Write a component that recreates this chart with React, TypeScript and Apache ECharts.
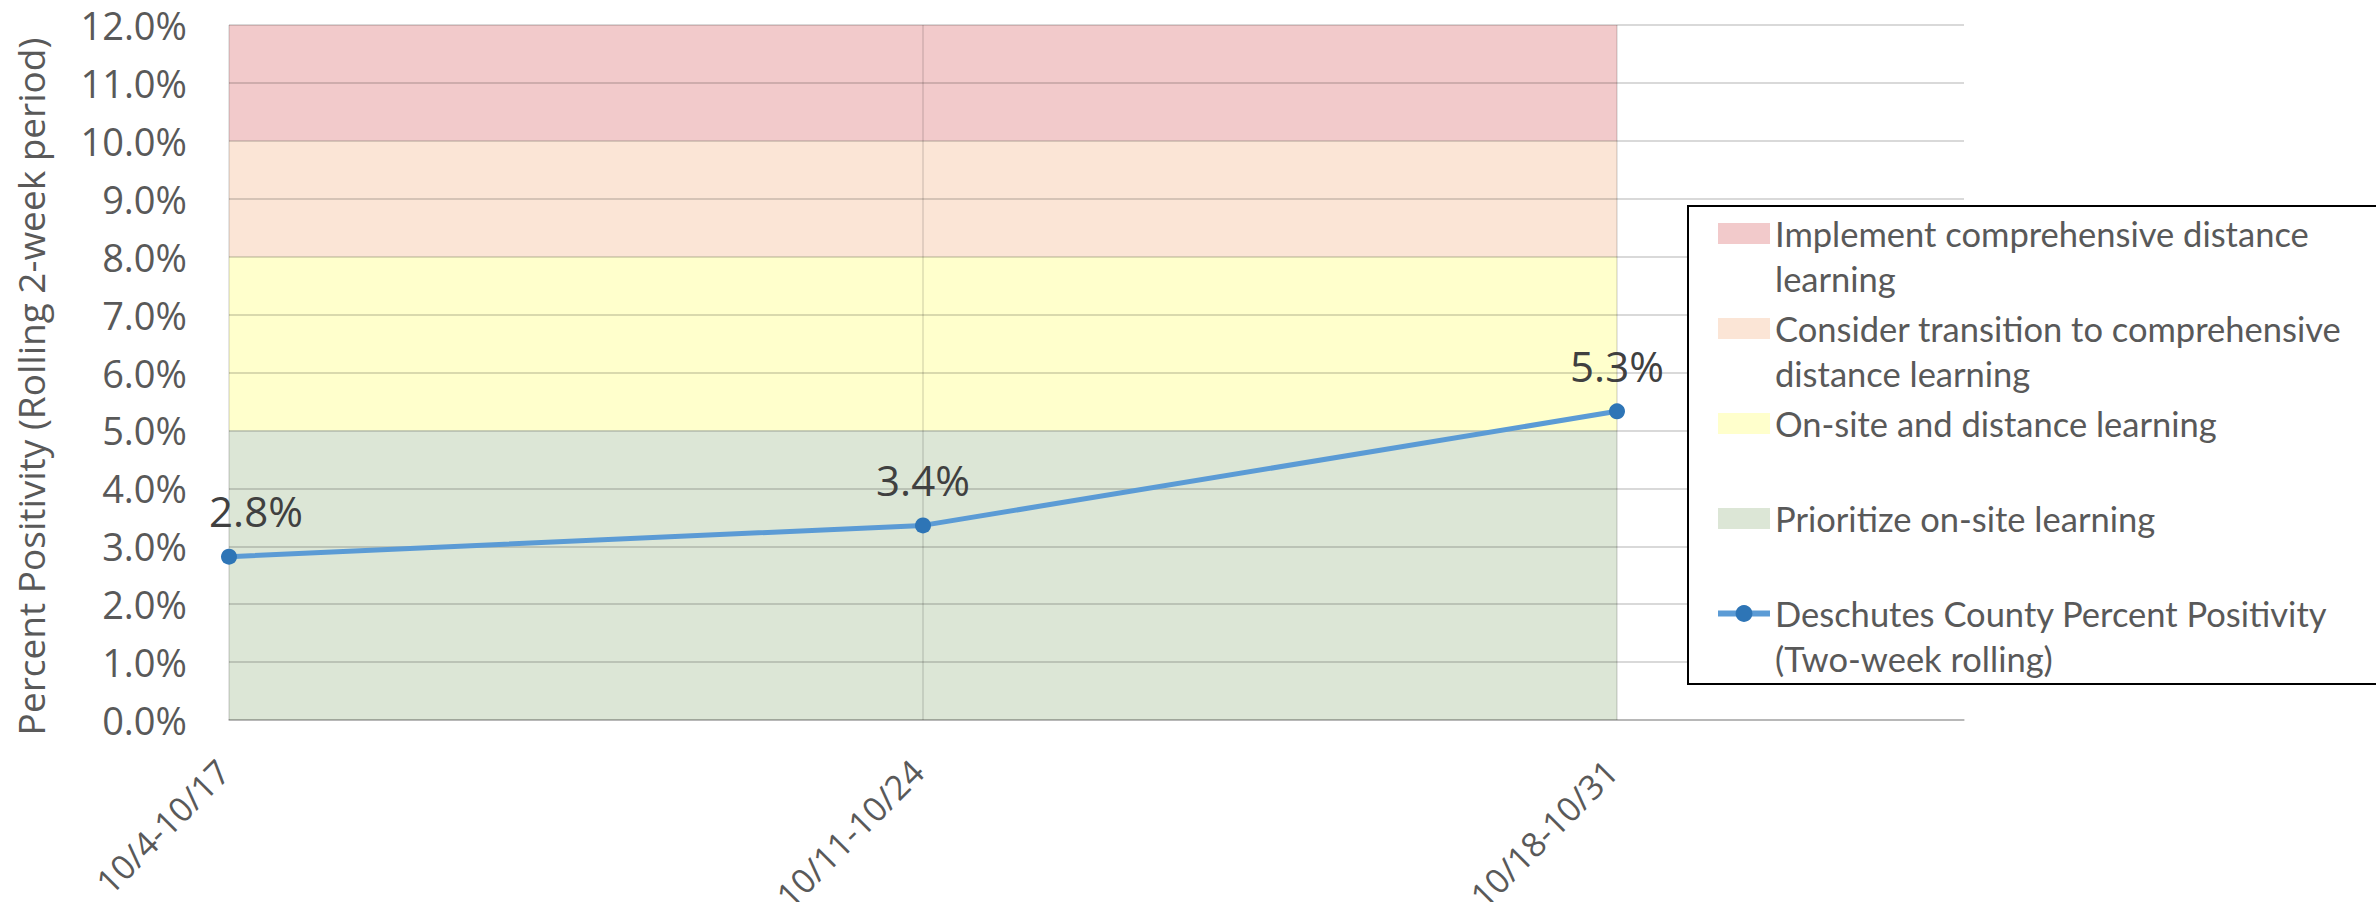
import React, { useEffect, useRef } from "react";
import * as echarts from "echarts";

const categories = ["10/4-10/17", "10/11-10/24", "10/18-10/31"];
const positivity = [2.82, 3.36, 5.33];
const lineName = "Deschutes County Percent Positivity (Two-week rolling)";

// bands, bottom to top (thickness in percentage points)
const zoneNames = [
  "Prioritize on-site learning",
  "On-site and distance learning",
  "Consider transition to comprehensive distance learning",
  "Implement comprehensive distance learning",
];
const zoneThickness = [5, 3, 2, 2];
const zoneColors = ["#DCE6D6", "#FFFFCC", "#FBE5D6", "#F2CACB"];

const legendOrder = [zoneNames[3], zoneNames[2], zoneNames[1], zoneNames[0], lineName];
const legendLines: Record<string, string[]> = {
  [zoneNames[3]]: ["Implement comprehensive distance", "learning"],
  [zoneNames[2]]: ["Consider transition to comprehensive", "distance learning"],
  [zoneNames[1]]: ["On-site and distance learning", " "],
  [zoneNames[0]]: ["Prioritize on-site learning", " "],
  [lineName]: ["Deschutes County Percent Positivity", "(Two-week rolling)"],
};

const yMin = 0;
const yMax = 12;
const yInterval = 1;

export default function App() {
  const ref = useRef<HTMLDivElement>(null);
  useEffect(() => {
    if (!ref.current) return;
    const chart = echarts.init(ref.current, undefined, { renderer: "svg" });
    const font = "'Open Sans', 'Noto Sans', sans-serif";
    const tops: number[] = [];
    zoneThickness.reduce((acc, t) => {
      tops.push(acc + t);
      return acc + t;
    }, 0);
    // highest band first, lower bands painted over it
    const zoneSeries = zoneNames
      .map((name, k) => ({
        name,
        type: "line",
        color: zoneColors[k],
        symbol: "none",
        lineStyle: { width: 0, color: zoneColors[k] },
        areaStyle: { color: zoneColors[k], opacity: 1, origin: "start" },
        data: categories.map((_, i) => [i, tops[k]]),
        silent: true,
        z: 1,
      }))
      .reverse();
    const grid = "rgba(0,0,0,0.15)";
    const option = {
      animation: false,
      grid: { left: 229, top: 25, right: 412, bottom: 182, containLabel: false, outerBoundsMode: "none" },
      xAxis: {
        type: "value",
        min: 0,
        max: 2.5,
        interval: 1,
        z: 3,
        axisLine: { show: true, lineStyle: { color: grid, width: 2 } },
        axisTick: { show: false },
        splitLine: {
          show: true,
          showMinLine: true,
          showMaxLine: false,
          lineStyle: { color: "rgba(0,0,0,0.1)", width: 2 },
        },
        axisLabel: {
          rotate: 45,
          margin: 40,
          fontSize: 34,
          fontFamily: font,
          color: "#595959",
          padding: [0, 8, 0, 0],
          showMaxLabel: false,
          formatter: (v: number) => (Number.isInteger(v) && categories[v] !== undefined ? categories[v] : ""),
        },
      },
      yAxis: {
        type: "value",
        min: yMin,
        max: yMax,
        interval: yInterval,
        z: 3,
        name: "Percent Positivity (Rolling 2-week period)",
        nameLocation: "middle",
        nameGap: 180,
        nameTextStyle: { fontSize: 37, fontFamily: font, color: "#595959", padding: [0, 28, 0, 0] },
        axisLine: { show: false },
        axisTick: { show: false },
        splitLine: { show: true, lineStyle: { color: grid, width: 2 } },
        axisLabel: {
          margin: 42,
          fontSize: 38,
          fontFamily: font,
          color: "#595959",
          formatter: (v: number) => v.toFixed(1) + "%",
        },
      },
      legend: {
        orient: "vertical",
        left: 1688,
        top: 206,
        padding: [-40, 36, 3, 27],
        itemGap: -40,
        itemWidth: 52,
        itemHeight: 21,
        itemTextGap: 6,
        backgroundColor: "#fff",
        borderColor: "#000",
        borderWidth: 2,
        selectedMode: false,
        lineStyle: { width: 6 },
        data: legendOrder.map((n) => (n === lineName ? { name: n } : { name: n, icon: "rect" })),
        // empty first line keeps the first text line level with the key
        formatter: (n: string) => [" ", ...(legendLines[n] ?? [n])].join("\n"),
        textStyle: {
          fontSize: 34.5,
          lineHeight: 45,
          fontFamily: "Lato, sans-serif",
          color: "#595959",
        },
      },
      series: [
        ...zoneSeries,
        {
          name: lineName,
          type: "line",
          z: 5,
          symbol: "circle",
          symbolSize: 16,
          lineStyle: { color: "#5B9BD5", width: 5 },
          itemStyle: { color: "#2E75B6" },
          label: {
            show: true,
            position: "top",
            distance: 17,
            fontSize: 42,
            fontFamily: font,
            color: "#404040",
            formatter: (p: any) => p.value[1].toFixed(1) + "%",
          },
          data: categories.map((_, i) =>
            i === 0 ? { value: [i, positivity[i]], label: { offset: [27, 0] } } : { value: [i, positivity[i]] }
          ),
        },
      ],
    };
    chart.setOption(option as any);
    return () => chart.dispose();
  }, []);
  return (
    <div
      ref={ref}
      style={{ position: "absolute", left: 0, top: 0, width: 2376, height: 902, background: "#fff" }}
    />
  );
}
